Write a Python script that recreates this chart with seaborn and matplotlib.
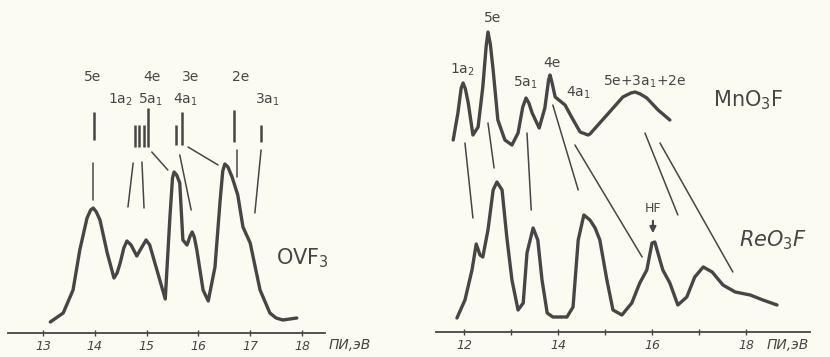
import matplotlib
matplotlib.use("Agg")
import matplotlib.pyplot as plt
import seaborn as sns
import pandas as pd

# ---------------- data ----------------
# OVF3 spectrum (ionisation energy, eV ; relative intensity)
ovf_x = [13.14, 13.39, 13.58, 13.71, 13.85, 13.92, 13.97, 14.03, 14.10, 14.24, 14.37,
         14.43, 14.49, 14.56, 14.62, 14.70, 14.81, 14.91, 14.99, 15.06, 15.16, 15.36,
         15.45, 15.50, 15.53, 15.58, 15.64, 15.70, 15.78, 15.84, 15.88, 15.92, 15.97,
         16.09, 16.19, 16.32, 16.42, 16.47, 16.51, 16.57, 16.65, 16.76, 16.86, 17.00,
         17.19, 17.38, 17.50, 17.63, 17.90]
ovf_y = [11, 20, 43, 83, 115, 123, 125, 121, 113, 80, 55,
         60, 70, 85, 92, 88, 77, 86, 93, 88, 70, 34,
         116, 155, 161, 158, 150, 93, 88, 97, 101, 96, 83,
         43, 32, 66, 133, 162, 169, 166, 156, 138, 106, 90,
         43, 20, 15, 13, 15]

# calculated levels of OVF3 (energy, bottom, top)
lvl_x = [13.98, 14.78, 14.86, 14.94, 15.02, 15.56, 15.69, 16.69, 17.21]
lvl_lo = [193, 186, 186, 186, 186, 188, 188, 191, 191]
lvl_hi = [221, 208, 208, 208, 225, 208, 221, 223, 208]

# OVF3 correlation lines
ovf_c_x0 = [13.97, 14.74, 14.91, 15.10, 15.64, 15.80, 16.75, 17.21]
ovf_c_y0 = [170, 170, 171, 181, 178, 186, 183, 183]
ovf_c_x1 = [13.97, 14.64, 14.95, 15.41, 15.86, 16.38, 16.75, 17.09]
ovf_c_y1 = [133, 126, 125, 163, 123, 168, 156, 120]

# OVF3 labels
ovf_lab = ["5e", "4e", "3e", "2e", "1a$_2$", "5a$_1$", "4a$_1$", "3a$_1$"]
ovf_lab_x = [13.96, 15.10, 15.84, 16.82, 14.49, 15.08, 15.74, 17.34]
ovf_lab_y = [256, 256, 256, 256, 233, 233, 233, 233]

# MnO3F spectrum
mno_x = [11.77, 11.87, 11.94, 11.98, 12.03, 12.09, 12.19, 12.30, 12.40, 12.47, 12.51,
         12.56, 12.62, 12.72, 12.87, 13.02, 13.15, 13.25, 13.32, 13.38, 13.45, 13.60,
         13.72, 13.80, 13.83, 13.87, 13.94, 14.15, 14.30, 14.47, 14.64, 14.68, 15.04,
         15.38, 15.55, 15.64, 15.75, 15.89, 16.13, 16.38]
mno_y = [192, 219, 244, 249, 243, 229, 197, 205, 245, 285, 300,
         288, 262, 212, 192, 187, 199, 225, 234, 229, 219, 204,
         224, 252, 257, 250, 235, 227, 214, 200, 197, 198, 217,
         235, 239, 240, 238, 234, 222, 212]

# ReO3F spectrum
reo_x = [11.85, 12.02, 12.17, 12.26, 12.34, 12.40, 12.51, 12.62, 12.70, 12.81,
         12.91, 13.02, 13.15, 13.26, 13.34, 13.47, 13.57, 13.66, 13.77, 13.89,
         14.19, 14.32, 14.43, 14.55, 14.68, 14.79, 14.89, 15.04, 15.17, 15.36,
         15.57, 15.74, 15.89, 16.00, 16.06, 16.15, 16.23, 16.38, 16.55, 16.74,
         16.91, 17.09, 17.28, 17.51, 17.77, 18.09, 18.36, 18.66]
reo_y = [14, 32, 62, 88, 77, 75, 102, 142, 150, 142,
         95, 52, 22, 29, 79, 104, 92, 52, 19, 15,
         15, 25, 92, 117, 112, 104, 92, 52, 22, 17,
         29, 49, 62, 89, 90, 75, 62, 49, 27, 35,
         55, 65, 60, 47, 40, 37, 32, 27]

# MnO3F <-> ReO3F correlation lines
mr_c_x0 = [12.02, 12.51, 13.34, 13.89, 14.36, 15.85, 16.17]
mr_c_y0 = [189, 209, 199, 227, 187, 199, 189]
mr_c_x1 = [12.19, 12.64, 13.43, 14.43, 15.79, 16.55, 17.72]
mr_c_y1 = [114, 164, 122, 142, 75, 117, 60]

mno_lab = ["5e", "1a$_2$", "5a$_1$", "4e", "4a$_1$", "5e+3a$_1$+2e"]
mno_lab_x = [12.60, 11.96, 13.30, 13.87, 14.43, 15.85]
mno_lab_y = [314, 262, 249, 269, 239, 250]

left_ticks = [13, 14, 15, 16, 17, 18]
right_ticks = [12, 14, 16, 18]
right_minor = [13, 15, 17]
axis_label = "ПИ,эВ"

# ---------------- style ----------------
bg = "#fbfbf2"
ink = "#464646"
sns.set_theme(style="white")
plt.rcParams["font.family"] = ["DejaVu Sans"]
plt.rcParams["mathtext.fontset"] = "dejavusans"
plt.rcParams["lines.solid_joinstyle"] = "round"
plt.rcParams["lines.solid_capstyle"] = "round"

fig = plt.figure(figsize=(8.3, 3.57), dpi=100, facecolor=bg)
axL = fig.add_axes([8 / 830, 24 / 357, 317 / 830, 333 / 357])
axR = fig.add_axes([436 / 830, 25 / 357, 374 / 830, 332 / 357])

for ax in (axL, axR):
    ax.set_facecolor(bg)
    for s in ("left", "right", "top"):
        ax.spines[s].set_visible(False)
    ax.spines["bottom"].set_color(ink)
    ax.spines["bottom"].set_linewidth(1.3)
    ax.set_yticks([])

# ---- left panel: OVF3 ----
dfo = pd.DataFrame({"x": ovf_x, "y": ovf_y})
sns.lineplot(data=dfo, x="x", y="y", ax=axL, color=ink, lw=2.4, sort=False,
             estimator=None)
axL.vlines(lvl_x, lvl_lo, lvl_hi, color=ink, lw=1.8)
for x0, y0, x1, y1 in zip(ovf_c_x0, ovf_c_y0, ovf_c_x1, ovf_c_y1):
    axL.plot([x0, x1], [y0, y1], color=ink, lw=1.1)
for t, x, y in zip(ovf_lab, ovf_lab_x, ovf_lab_y):
    axL.text(x, y, t, ha="center", va="center", fontsize=10, color=ink)
axL.text(18.0, 75, "OVF$_3$", ha="center", va="center", fontsize=15, color=ink)
axL.set_xlim(12.324, 18.444)
axL.set_ylim(0, 333)
axL.set_xticks(left_ticks)
axL.set_xticklabels([str(t) for t in left_ticks], fontsize=9, style="italic", color=ink)
axL.tick_params(axis="x", direction="inout", length=4, width=1, color=ink, pad=3,
                bottom=True)
axL.text(18.93, -12, axis_label, ha="center", va="center", fontsize=10,
         style="italic", color=ink, clip_on=False)
axL.set_xlabel("")
axL.set_ylabel("")

# ---- right panel: MnO3F / ReO3F ----
dfm = pd.DataFrame({"x": mno_x, "y": mno_y})
dfr = pd.DataFrame({"x": reo_x, "y": reo_y})
sns.lineplot(data=dfm, x="x", y="y", ax=axR, color=ink, lw=2.4, sort=False,
             estimator=None)
sns.lineplot(data=dfr, x="x", y="y", ax=axR, color=ink, lw=2.4, sort=False,
             estimator=None)
for x0, y0, x1, y1 in zip(mr_c_x0, mr_c_y0, mr_c_x1, mr_c_y1):
    axR.plot([x0, x1], [y0, y1], color=ink, lw=1.1)
for t, x, y in zip(mno_lab, mno_lab_x, mno_lab_y):
    axR.text(x, y, t, ha="center", va="center", fontsize=10, color=ink)
axR.text(18.04, 232, "MnO$_3$F", ha="center", va="center", fontsize=15, color=ink)
axR.text(18.57, 92, "ReO$_3$F", ha="center", va="center", fontsize=15,
         color=ink, style="italic")
axR.text(16.02, 124, "HF", ha="center", va="center", fontsize=9, color=ink)
axR.annotate("", xy=(16.02, 96), xytext=(16.02, 114),
             arrowprops=dict(arrowstyle="-|>", color=ink, lw=1.5,
                             mutation_scale=9))
axR.set_xlim(11.404, 19.362)
axR.set_ylim(0, 332)
axR.set_xticks(right_ticks)
axR.set_xticks(right_minor, minor=True)
axR.set_xticklabels([str(t) for t in right_ticks], fontsize=9, style="italic", color=ink)
axR.tick_params(axis="x", which="both", direction="inout", length=4, width=1,
                color=ink, pad=3, bottom=True)
axR.text(18.89, -13, axis_label, ha="center", va="center", fontsize=10,
         style="italic", color=ink, clip_on=False)
axR.set_xlabel("")
axR.set_ylabel("")

fig.savefig("out.png", dpi=100, facecolor=bg)
